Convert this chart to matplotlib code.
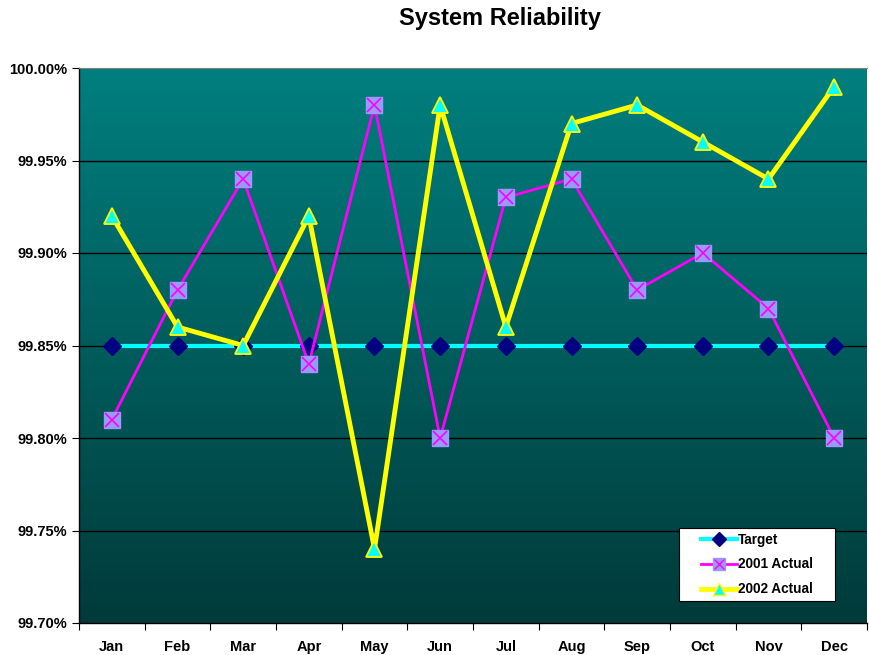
import numpy as np
import matplotlib
matplotlib.use("Agg")
import matplotlib.pyplot as plt
from matplotlib.colors import LinearSegmentedColormap
from matplotlib.ticker import FixedLocator, FuncFormatter
from matplotlib.lines import Line2D
from matplotlib.patches import Rectangle

plt.rcParams['font.family'] = ['Liberation Sans', 'DejaVu Sans']

months = ["Jan", "Feb", "Mar", "Apr", "May", "Jun", "Jul", "Aug", "Sep", "Oct", "Nov", "Dec"]
target = [99.85] * 12
actual_2001 = [99.81, 99.88, 99.94, 99.84, 99.98, 99.80, 99.93, 99.94, 99.88, 99.90, 99.87, 99.80]
actual_2002 = [99.92, 99.86, 99.85, 99.92, 99.74, 99.98, 99.86, 99.97, 99.98, 99.96, 99.94, 99.99]
y_ticks = [99.70, 99.75, 99.80, 99.85, 99.90, 99.95, 100.00]

W, H = 869, 655
fig = plt.figure(figsize=(W/100, H/100), dpi=100)
ax = fig.add_axes([79/W, 32/H, 788/W, 555/H])

x = np.arange(len(months))
ax.set_xlim(-0.5, len(months) - 0.5)
ax.set_ylim(y_ticks[0], y_ticks[-1])

# gradient background
cmap = LinearSegmentedColormap.from_list("bg", ["#003a3a", "#007f7f"])
grad = np.linspace(0, 1, 256).reshape(-1, 1)
ax.imshow(grad, cmap=cmap, aspect="auto", origin="lower",
          extent=[-0.5, len(months) - 0.5, y_ticks[0], y_ticks[-1]], zorder=0)

for yv in y_ticks[1:-1]:
    ax.axhline(yv, color="black", lw=1.0, zorder=1)

ax.plot(x, target, color="#00ffff", lw=3.0, marker="D", markersize=9,
        markerfacecolor="#000080", markeredgecolor="#000080", zorder=3)
ax.plot(x, actual_2001, color="#ff00ff", lw=2.0, zorder=4)
ax.plot(x, actual_2001, ls="none", marker="s", markersize=11,
        markerfacecolor="#9999ff", markeredgecolor="#9999ff", zorder=5)
ax.plot(x, actual_2001, ls="none", marker="x", markersize=10,
        markeredgecolor="#ff00ff", markeredgewidth=1.2, zorder=6)
ax.plot(x, actual_2002, color="#ffff00", lw=3.5, marker="^", markersize=12,
        markerfacecolor="#00ffff", markeredgecolor="#ffff00", markeredgewidth=1.3, zorder=7)

ax.yaxis.set_major_locator(FixedLocator(y_ticks))
ax.yaxis.set_major_formatter(FuncFormatter(lambda v, p: f"{v:.2f}%"))
ax.xaxis.set_major_locator(FixedLocator(np.arange(-0.5, len(months), 1.0)))
ax.xaxis.set_major_formatter(FuncFormatter(lambda v, p: ""))
ax.set_xticks(x, minor=True)
ax.set_xticklabels(months, minor=True, fontsize=10.5, fontweight="bold")
ax.tick_params(axis="x", which="minor", length=0, pad=12)
ax.tick_params(axis="x", which="major", length=5, direction="out")
ax.tick_params(axis="y", length=5, direction="out", labelsize=10.5)
for lab in ax.get_yticklabels():
    lab.set_fontweight("bold")

for s in ["left", "bottom"]:
    ax.spines[s].set_color("black")
    ax.spines[s].set_linewidth(1.0)
ax.spines["top"].set_color("#808080")
ax.spines["right"].set_visible(False)

fig.suptitle("System Reliability", x=500/W, y=1 - 19/H, va="center",
             fontsize=17, fontweight="bold")

# legend frame
lx0, ly0, lw, lh = 679, 528, 156, 73
fig.patches.append(Rectangle((lx0/W, 1 - (ly0 + lh)/H), lw/W, lh/H,
                             transform=fig.transFigure, facecolor="white",
                             edgecolor="black", linewidth=0.8, zorder=9))

h_target = Line2D([], [], color="#00ffff", lw=3.0, marker="D", markersize=7,
                  markerfacecolor="#000080", markeredgecolor="#000080")
h_2001a = Line2D([], [], color="#ff00ff", lw=2.0, marker="s", markersize=8,
                 markerfacecolor="#9999ff", markeredgecolor="#9999ff")
h_2001b = Line2D([], [], ls="none", marker="x", markersize=7,
                 markeredgecolor="#ff00ff", markeredgewidth=1.0)
h_2002 = Line2D([], [], color="#ffff00", lw=3.5, marker="^", markersize=8,
                markerfacecolor="#00ffff", markeredgecolor="#ffff00")
leg = fig.legend([h_target, (h_2001a, h_2001b), h_2002],
                 ["Target", "2001 Actual", "2002 Actual"],
                 loc="center", bbox_to_anchor=((lx0 + lw/2)/W, 1 - (ly0 + lh/2)/H),
                 bbox_transform=fig.transFigure,
                 frameon=False, prop={"weight": "bold", "size": 9.8},
                 handlelength=2.6, handletextpad=0.1, labelspacing=0.8,
                 borderpad=0, borderaxespad=0)
leg.set_zorder(10)

fig.savefig("out.png", dpi=100)
